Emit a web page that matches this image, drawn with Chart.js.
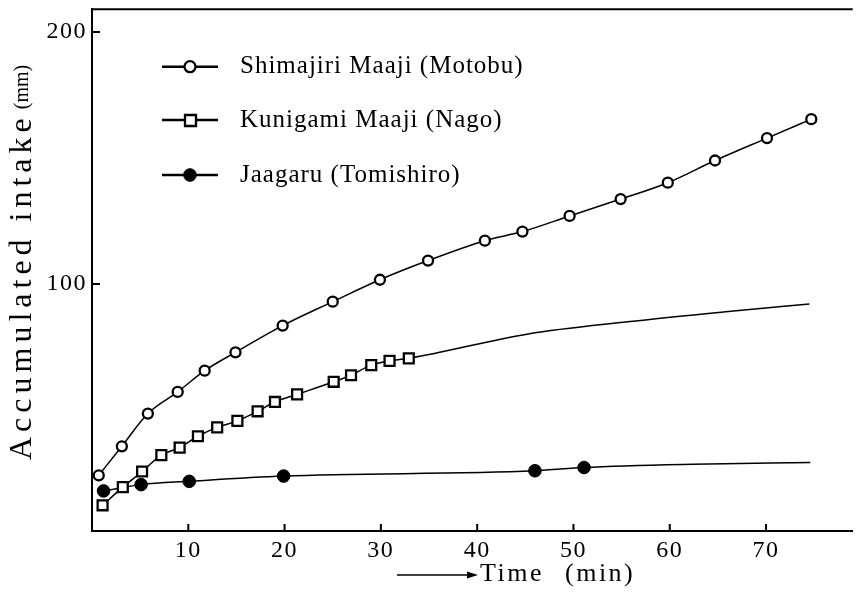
<!DOCTYPE html>
<html>
<head>
<meta charset="utf-8">
<script src="https://cdn.jsdelivr.net/npm/chart.js@4.4.1/dist/chart.umd.min.js"></script>
<style>
  html, body { margin: 0; padding: 0; background: #fff; }
</style>
</head>
<body>
<canvas id="chart" width="862" height="603"></canvas>
<script>
const seriesLabels = ['Shimajiri Maaji (Motobu)', 'Kunigami Maaji (Nago)', 'Jaagaru (Tomishiro)'];
const xTicks = [10, 20, 30, 40, 50, 60, 70];
const yTicks = [100, 200];

// time (min) / accumulated intake (mm)
const shimajiriTime = [0.7, 3.1, 5.8, 8.9, 11.7, 14.9, 19.8, 25.0, 29.9, 34.9, 40.8, 44.7, 49.6, 54.9, 59.8, 64.7, 70.1, 74.7];
const shimajiriValue = [24.1, 35.6, 48.6, 57.2, 65.6, 72.9, 83.5, 93.0, 101.7, 109.3, 117.2, 120.8, 127.0, 133.7, 140.2, 149.0, 157.9, 165.4];

const kunigamiTime = [1.1, 3.2, 5.2, 7.2, 9.1, 11.0, 13.0, 15.1, 17.2, 19.0, 21.3, 25.1, 26.9, 29.0, 30.9, 32.9];
const kunigamiValue = [12.2, 19.4, 25.6, 32.1, 35.1, 39.6, 43.1, 45.7, 49.5, 53.2, 56.2, 61.2, 63.8, 67.8, 69.5, 70.5];
// fitted curve past the last square (no markers)
const kunigamiTailTime = [45.3, 55.6, 65.8, 74.5];
const kunigamiTailValue = [80.2, 85.0, 89.0, 92.1];

const jaagaruTime = [1.2, 5.1, 10.1, 19.9, 46.0, 51.1];
const jaagaruValue = [17.9, 20.4, 21.7, 23.8, 25.9, 27.2];
const jaagaruTailTime = [62.4, 74.6];
const jaagaruTailValue = [28.5, 29.2];

const SERIF = "'Liberation Serif', 'DejaVu Serif', serif";
Chart.defaults.font.family = SERIF;
Chart.defaults.color = '#000';

const toPoints = (t, v) => t.map((x, i) => ({ x, y: v[i] }));

const markerStyles = [
  { pointStyle: 'circle', radius: 5, fill: '#fff', border: 2.3 },
  { pointStyle: 'rect', radius: 7, fill: '#fff', border: 2.3 },
  { pointStyle: 'circle', radius: 6.3, fill: '#000', border: 1 }
];

function makeDataset(i, data, markerCount) {
  const m = markerStyles[i];
  return {
    label: seriesLabels[i],
    data,
    borderColor: '#000',
    borderWidth: 1.5,
    cubicInterpolationMode: 'monotone',
    pointStyle: m.pointStyle,
    pointBackgroundColor: m.fill,
    pointBorderColor: '#000',
    pointBorderWidth: m.border,
    pointRadius: ctx => ctx.dataIndex < markerCount ? m.radius : 0,
    pointHoverRadius: ctx => ctx.dataIndex < markerCount ? m.radius : 0
  };
}

// tick labels are letter-spaced like the printed figure
const spacingPlugin = {
  id: 'spacing',
  beforeDraw(chart) {
    chart.ctx.letterSpacing = '1.5px';
  }
};

// frame line on top, inward tick marks, axis titles, legend
const decorPlugin = {
  id: 'decor',
  afterDraw(chart) {
    const { ctx, chartArea } = chart;
    const xs = chart.scales.x, ys = chart.scales.y;
    ctx.save();
    ctx.letterSpacing = '0px';
    ctx.strokeStyle = '#000';
    ctx.fillStyle = '#000';

    ctx.lineWidth = 2;
    ctx.beginPath();
    ctx.moveTo(chartArea.left - 1, chartArea.top);
    ctx.lineTo(chartArea.right, chartArea.top);
    xTicks.forEach(v => {
      const px = xs.getPixelForValue(v);
      ctx.moveTo(px, chartArea.bottom);
      ctx.lineTo(px, chartArea.bottom - 7);
    });
    yTicks.forEach(v => {
      const py = ys.getPixelForValue(v);
      ctx.moveTo(chartArea.left, py);
      ctx.lineTo(chartArea.left + 8, py);
    });
    ctx.stroke();

    // y title, rotated
    ctx.save();
    ctx.translate(23, 460);
    ctx.rotate(-Math.PI / 2);
    ctx.textAlign = 'left';
    ctx.textBaseline = 'middle';
    ctx.font = '32px ' + SERIF;
    ctx.letterSpacing = '5px';
    ctx.fillText('Accumulated intake', 0, 0);
    const w = ctx.measureText('Accumulated intake').width;
    ctx.font = '20px ' + SERIF;
    ctx.letterSpacing = '0px';
    ctx.fillText('(mm)', w + 4, 0);
    ctx.restore();

    // x title with arrow
    ctx.lineWidth = 1.5;
    ctx.beginPath();
    ctx.moveTo(397, 575);
    ctx.lineTo(470, 575);
    ctx.stroke();
    ctx.beginPath();
    ctx.moveTo(478, 575);
    ctx.lineTo(467, 571.5);
    ctx.lineTo(467, 578.5);
    ctx.closePath();
    ctx.fill();
    ctx.font = '26px ' + SERIF;
    ctx.letterSpacing = '2.5px';
    ctx.textAlign = 'left';
    ctx.textBaseline = 'alphabetic';
    ctx.fillText('Time', 480, 581);
    ctx.fillText('(min)', 565, 581);

    // legend
    const rows = [66.7, 120, 175];
    chart.data.datasets.forEach((ds, i) => {
      const y = rows[i];
      const m = markerStyles[i];
      ctx.lineWidth = 2.5;
      ctx.beginPath();
      ctx.moveTo(162, y);
      ctx.lineTo(218, y);
      ctx.stroke();
      ctx.lineWidth = m.border;
      ctx.fillStyle = m.fill;
      ctx.beginPath();
      if (m.pointStyle === 'rect') {
        ctx.rect(185, y - 5, 11, 11);
      } else {
        ctx.arc(190, y, i === 0 ? 5.5 : 6.3, 0, Math.PI * 2);
      }
      ctx.fill();
      ctx.stroke();
      ctx.fillStyle = '#000';
      ctx.font = '25px ' + SERIF;
      ctx.letterSpacing = '1px';
      ctx.textBaseline = 'middle';
      ctx.fillText(ds.label, 240, y);
    });
    ctx.restore();
  }
};

new Chart(document.getElementById('chart'), {
  type: 'line',
  data: {
    datasets: [
      makeDataset(0, toPoints(shimajiriTime, shimajiriValue), shimajiriTime.length),
      makeDataset(1, toPoints(kunigamiTime.concat(kunigamiTailTime), kunigamiValue.concat(kunigamiTailValue)), kunigamiTime.length),
      makeDataset(2, toPoints(jaagaruTime.concat(jaagaruTailTime), jaagaruValue.concat(jaagaruTailValue)), jaagaruTime.length)
    ]
  },
  options: {
    responsive: false,
    devicePixelRatio: 1,
    animation: false,
    layout: { padding: { top: 9, right: 0, bottom: 0, left: 0 } },
    plugins: {
      legend: { display: false },
      tooltip: { enabled: false }
    },
    scales: {
      x: {
        type: 'linear',
        min: 0,
        max: 79,
        afterBuildTicks: scale => { scale.ticks = xTicks.map(v => ({ value: v })); },
        afterFit: scale => { scale.height = 72; scale.paddingLeft = 0; scale.paddingRight = 0; },
        grid: { display: true, drawOnChartArea: false, drawTicks: false, color: 'rgba(0,0,0,0)' },
        border: { display: true, color: '#000', width: 2 },
        ticks: { font: { size: 24 }, color: '#000', padding: 5, maxRotation: 0 }
      },
      y: {
        min: 2,
        max: 209,
        afterBuildTicks: scale => { scale.ticks = yTicks.map(v => ({ value: v })); },
        afterFit: scale => { scale.width = 92; scale.paddingTop = 0; scale.paddingBottom = 0; },
        grid: { display: true, drawOnChartArea: false, drawTicks: false, color: 'rgba(0,0,0,0)' },
        border: { display: true, color: '#000', width: 2 },
        ticks: { font: { size: 24 }, color: '#000', padding: 5 }
      }
    }
  },
  plugins: [spacingPlugin, decorPlugin]
});
</script>
</body>
</html>
